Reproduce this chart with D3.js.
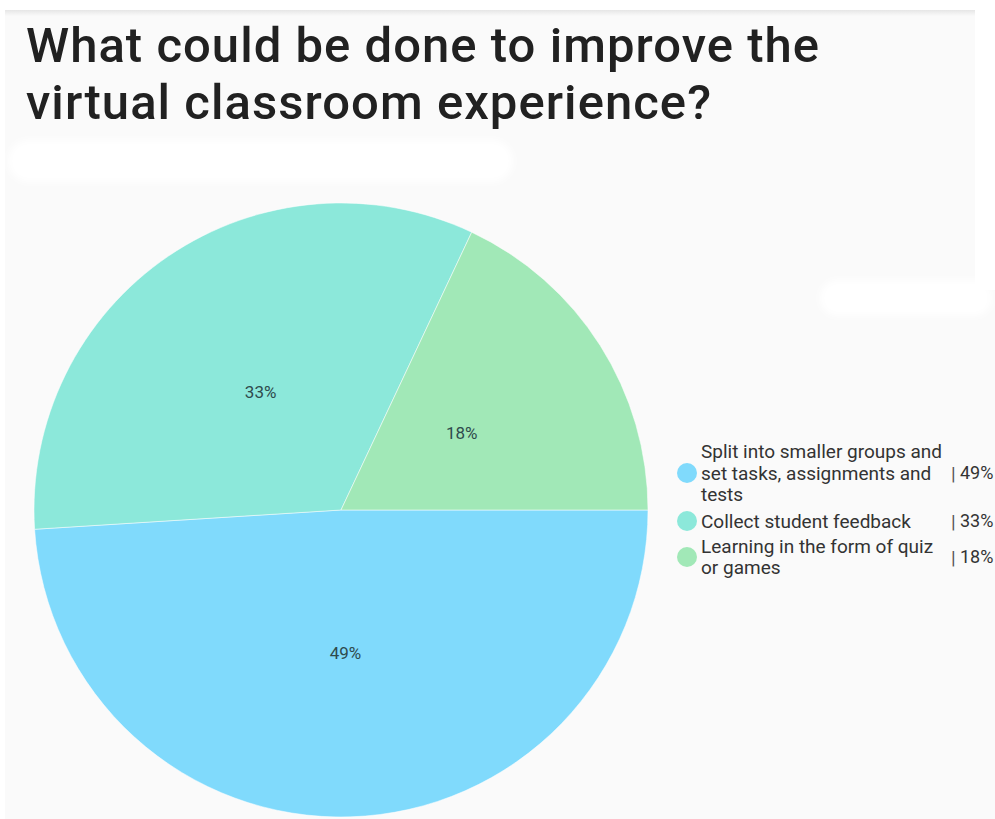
<!DOCTYPE html>
<html>
<head>
<meta charset="utf-8">
<script src="https://cdn.jsdelivr.net/npm/d3@7"></script>
<style>
  html, body { margin: 0; padding: 0; background: #fafafa; }
  svg { display: block; }
</style>
</head>
<body>
<svg id="chart" width="995" height="819"></svg>
<script>
// Survey answers and their shares
const categories = [
  "Split into smaller groups and set tasks, assignments and tests",
  "Collect student feedback",
  "Learning in the form of quiz or games"
];
const legendLines = [
  ["Split into smaller groups and", "set tasks, assignments and", "tests"],
  ["Collect student feedback"],
  ["Learning in the form of quiz", "or games"]
];
const values = [49, 33, 18];
const colors = ["#80dafc", "#8ce8da", "#a1e8b7"];
const titleLines = ["What could be done to improve the", "virtual classroom experience?"];
const titleWidths = [793, 685];

const svg = d3.select("#chart");
const W = 995, H = 819;

// page background, top bar and blank panels
svg.append("rect").attr("width", W).attr("height", H).attr("fill", "#fafafa");
const defs = svg.append("defs");
const sh = defs.append("linearGradient").attr("id", "topShade").attr("x1", 0).attr("y1", 0).attr("x2", 0).attr("y2", 1);
sh.append("stop").attr("offset", 0).attr("stop-color", "#e6e6e6");
sh.append("stop").attr("offset", 1).attr("stop-color", "#fafafa");
svg.append("rect").attr("x", 0).attr("y", 0).attr("width", W).attr("height", 10).attr("fill", "#ffffff");
svg.append("rect").attr("x", 0).attr("y", 10).attr("width", W).attr("height", 6).attr("fill", "url(#topShade)");
svg.append("rect").attr("x", 0).attr("y", 0).attr("width", 5).attr("height", H).attr("fill", "#ffffff");
svg.append("rect").attr("x", 975).attr("y", 0).attr("width", 20).attr("height", 290).attr("fill", "#ffffff");
defs.append("filter").attr("id", "soft").append("feGaussianBlur").attr("stdDeviation", 3);
svg.append("rect").attr("x", 8).attr("y", 140).attr("width", 505).attr("height", 42).attr("rx", 21)
  .attr("fill", "#ffffff").attr("filter", "url(#soft)");
svg.append("rect").attr("x", 820).attr("y", 280).attr("width", 172).attr("height", 36).attr("rx", 18)
  .attr("fill", "#ffffff").attr("filter", "url(#soft)");

// title
const title = svg.append("text")
  .attr("font-family", "Roboto, 'Noto Sans', sans-serif")
  .attr("font-weight", 500)
  .attr("font-size", 49)
  .attr("fill", "#212121");
titleLines.forEach((t, i) => {
  title.append("tspan").attr("x", 26).attr("y", 62 + i * 57)
    .attr("textLength", titleWidths[i]).attr("lengthAdjust", "spacing")
    .text(t);
});

// pie, starting at three o'clock and running clockwise
const cx = 341, cy = 510, radius = 307;
const pie = d3.pie().sort(null).value(d => d)
  .startAngle(Math.PI / 2).endAngle(Math.PI / 2 + 2 * Math.PI);
const arcs = pie(values);
const arc = d3.arc().innerRadius(0).outerRadius(radius);
const labelArc = d3.arc().innerRadius(143).outerRadius(143);

const g = svg.append("g").attr("transform", `translate(${cx},${cy})`);
g.selectAll("path.slice").data(arcs).join("path")
  .attr("class", "slice")
  .attr("d", arc)
  .attr("fill", (d, i) => colors[i])
  .attr("stroke", "#ffffff")
  .attr("stroke-opacity", 0.5)
  .attr("stroke-width", 1);

g.selectAll("text.pct").data(arcs).join("text")
  .attr("class", "pct")
  .attr("transform", d => `translate(${labelArc.centroid(d)})`)
  .attr("text-anchor", "middle")
  .attr("dy", "0.35em")
  .attr("font-family", "Roboto, 'Noto Sans', sans-serif")
  .attr("font-size", 17)
  .attr("fill", "#2f4b4d")
  .text(d => d.data + "%");

// legend
const legendTop = [473, 521, 557];
const lineH = 21.5;
const lg = svg.append("g")
  .attr("font-family", "Roboto, 'Noto Sans', sans-serif")
  .attr("font-size", 19)
  .attr("fill", "#333333");
legendLines.forEach((lines, i) => {
  const cyL = legendTop[i];
  lg.append("circle").attr("cx", 687).attr("cy", cyL).attr("r", 10).attr("fill", colors[i]);
  const first = cyL - (lines.length - 1) * lineH / 2;
  const t = lg.append("text");
  lines.forEach((ln, j) => {
    t.append("tspan").attr("x", 701).attr("y", first + j * lineH).attr("dy", "0.35em").text(ln);
  });
  lg.append("text").attr("x", 951).attr("y", cyL).attr("dy", "0.35em")
    .attr("fill", "#555555")
    .text("|");
  lg.append("text").attr("x", 960).attr("y", cyL).attr("dy", "0.35em")
    .attr("font-size", 18)
    .text(values[i] + "%");
});
</script>
</body>
</html>
